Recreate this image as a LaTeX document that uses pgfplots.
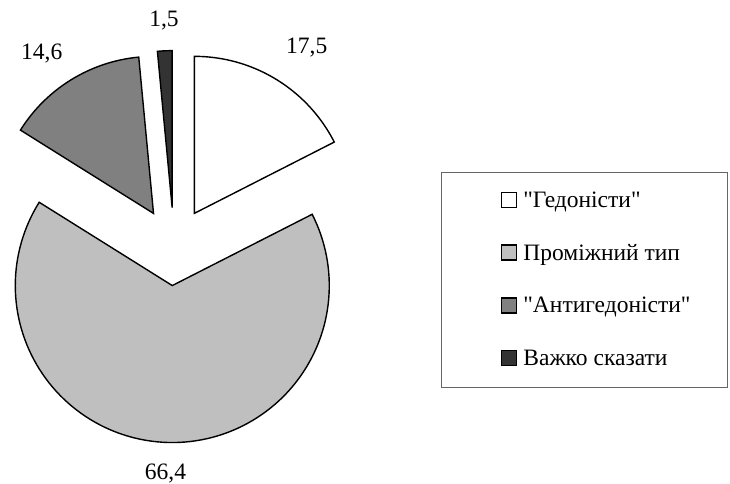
\documentclass[border=0pt]{standalone}
\usepackage{fontspec}
\setmainfont{Liberation Serif}[Ligatures=TeXOff]
\usepackage{pgfplots}
\pgfplotsset{compat=1.18}

% slice values (per cent), clockwise from 12 o'clock
\def\vA{17.5}% "Гедоністи"
\def\vB{66.4}% Проміжний тип
\def\vC{14.6}% "Антигедоністи"
\def\vD{1.5}%  Важко сказати
\pgfmathsetmacro\aA{90}
\pgfmathsetmacro\aB{\aA-3.6*\vA}
\pgfmathsetmacro\aC{\aB-3.6*\vB}
\pgfmathsetmacro\aD{\aC-3.6*\vC}
\pgfmathsetmacro\aE{\aD-3.6*\vD}

\def\cx{174}\def\cy{237.4}\def\R{157}\def\ex{39}

\newcommand\pieslice[3]{%
  \pgfmathsetmacro\midA{(#1+(#2))/2}%
  \pgfmathsetmacro\ox{\cx+\ex*cos(\midA)}%
  \pgfmathsetmacro\oy{\cy+\ex*sin(\midA)}%
  \edef\doslice{\noexpand\addplot[#3, draw=black, line width=1.4bp, line join=miter, domain=#1:#2, samples=120, forget plot] ({\ox+\R*cos(x)},{\oy+\R*sin(x)}) -- (axis cs:\ox,\oy) -- cycle;}%
  \doslice
}

\begin{document}
\begin{tikzpicture}
\useasboundingbox (0,0) rectangle (730bp,484bp);
\begin{axis}[
  x=1bp, y=1bp,
  xmin=0, xmax=730, ymin=0, ymax=484,
  hide axis, clip=false,
  legend image code/.code={\draw[#1, line width=1.3bp] (0bp,-5.5bp) rectangle (15.5bp,9.5bp);},
  legend cell align=left,
  legend style={at={(axis cs:500.4,203)}, anchor=west, draw=none, fill=none,
    inner sep=0pt, row sep=31.8bp, column sep=6bp,
    font=\fontsize{23.5bp}{28bp}\selectfont,
    nodes={inner sep=0pt, text height=16bp, text depth=5bp}},
]
\pieslice{\aB}{\aA}{fill=white}
\pieslice{\aC}{\aB}{fill=black!25}
\pieslice{\aD}{\aC}{fill=black!50}
\pieslice{\aE}{\aD}{fill=black!80}

\addlegendimage{fill=white, draw=black}
\addlegendentry{"Гедоністи"}
\addlegendimage{fill=black!25, draw=black}
\addlegendentry{Проміжний тип}
\addlegendimage{fill=black!50, draw=black}
\addlegendentry{"Антигедоністи"}
\addlegendimage{fill=black!80, draw=black}
\addlegendentry{Важко сказати}

\draw[black!60, line width=1bp] (axis cs:441.7,311.7) rectangle (axis cs:727.3,96.3);

\begin{scope}[font=\fontsize{23.5bp}{28bp}\selectfont]
\node[anchor=base, inner sep=0pt] at (axis cs:306.7,430.7) {17,5};
\node[anchor=base, inner sep=0pt] at (axis cs:165.5,4.7) {66,4};
\node[anchor=base, inner sep=0pt] at (axis cs:41.7,424.7) {14,6};
\node[anchor=base, inner sep=0pt] at (axis cs:164,457.3) {1,5};
\end{scope}
\end{axis}
\end{tikzpicture}
\end{document}
